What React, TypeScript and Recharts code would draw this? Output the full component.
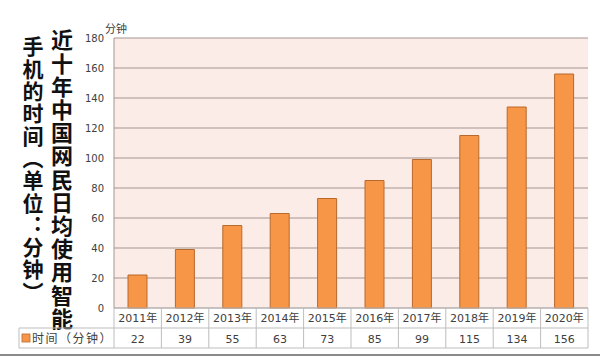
import React from "react";
import { BarChart, Bar, XAxis, YAxis, CartesianGrid } from "recharts";

const years = ["2011年", "2012年", "2013年", "2014年", "2015年", "2016年", "2017年", "2018年", "2019年", "2020年"];
const minutes = [22, 39, 55, 63, 73, 85, 99, 115, 134, 156];
const yTicks = [0, 20, 40, 60, 80, 100, 120, 140, 160, 180];
const titleRight = "近十年中国网民日均使用智能";
const titleLeft = "手机的时间（单位：分钟）";
const seriesName = "时间（分钟）";
const unitLabel = "分钟";

const data = years.map((year, i) => ({ year, value: minutes[i] }));

const ORANGE = "#F79646";
const ORANGE_EDGE = "#B8692C";
const GRID = "#A39593";
const TABLE_LINE = "#BDBDBD";
const TEXT = "#404040";
const NUM_FONT = "'DejaVu Sans', 'Noto Sans CJK SC', sans-serif";
const CJK_FONT = "'Noto Sans CJK SC', sans-serif";
const CELL = 47.4;

function TableTick(props: any) {
  const { x, y, payload } = props;
  const i = years.indexOf(payload.value);
  const left = x - CELL / 2;
  const right = x + CELL / 2;
  return (
    <g>
      <line x1={right} y1={y} x2={right} y2={y + 40} stroke={TABLE_LINE} />
      <line x1={left} y1={y + 20} x2={right} y2={y + 20} stroke={TABLE_LINE} />
      <line x1={left} y1={y + 40} x2={right} y2={y + 40} stroke={TABLE_LINE} />
      <text x={x} y={y + 14} textAnchor="middle" fontSize={11} fontFamily={NUM_FONT} fill={TEXT}>
        {payload.value}
      </text>
      <text x={x} y={y + 35} textAnchor="middle" fontSize={11} fontFamily={NUM_FONT} fill={TEXT}>
        {minutes[i]}
      </text>
      {i === 0 && (
        <g>
          <line x1={left} y1={y} x2={left} y2={y + 40} stroke={TABLE_LINE} />
          <line x1={19} y1={y + 20} x2={left} y2={y + 20} stroke={TABLE_LINE} />
          <line x1={19} y1={y + 40} x2={left} y2={y + 40} stroke={TABLE_LINE} />
          <line x1={19} y1={y + 20} x2={19} y2={y + 40} stroke={TABLE_LINE} />
          <rect x={22} y={y + 26} width={8} height={8} fill={ORANGE} stroke={ORANGE_EDGE} strokeWidth={0.8} />
          <text x={32} y={y + 35} fontSize={12} letterSpacing={1.5} fontFamily={CJK_FONT} fill={TEXT}>
            {seriesName}
          </text>
        </g>
      )}
    </g>
  );
}

export default function App() {
  return (
    <div style={{ position: "absolute", left: 0, top: 0, width: 600, height: 358, background: "#fff", overflow: "hidden" }}>
      <div
        style={{
          position: "absolute",
          left: 51,
          top: 29,
          writingMode: "vertical-rl",
          fontFamily: CJK_FONT,
          fontWeight: 700,
          fontSize: 22,
          lineHeight: 1,
          letterSpacing: 1.2,
          color: "#111",
        }}
      >
        {titleRight}
      </div>
      <div
        style={{
          position: "absolute",
          left: 22,
          top: 36,
          writingMode: "vertical-rl",
          fontFamily: CJK_FONT,
          fontWeight: 700,
          fontSize: 21,
          lineHeight: 1,
          letterSpacing: 1.3,
          color: "#111",
        }}
      >
        {titleLeft}
      </div>
      <div
        style={{
          position: "absolute",
          left: 105,
          top: 20,
          fontFamily: CJK_FONT,
          fontSize: 11,
          color: TEXT,
        }}
      >
        {unitLabel}
      </div>
      <BarChart width={600} height={358} data={data} margin={{ top: 38, right: 12, left: 84, bottom: 8 }} barCategoryGap={0}>
        <CartesianGrid horizontal vertical={false} stroke={GRID} fill="#FCECE7" fillOpacity={1} />
        <XAxis
          dataKey="year"
          height={42}
          tickLine={false}
          tickSize={0}
          tickMargin={0}
          axisLine={{ stroke: TABLE_LINE }}
          interval={0}
          tick={<TableTick />}
        />
        <YAxis
          width={30}
          domain={[0, 180]}
          ticks={yTicks}
          tickLine={false}
          tickSize={0}
          tickMargin={10}
          axisLine={{ stroke: GRID }}
          tick={{ fontSize: 10, fontFamily: NUM_FONT, fill: TEXT }}
        />
        <Bar dataKey="value" barSize={19} fill={ORANGE} stroke={ORANGE_EDGE} strokeWidth={1} isAnimationActive={false} />
      </BarChart>
      <div style={{ position: "absolute", left: 0, top: 354, width: 600, height: 2, background: "#8a8a8a" }} />
    </div>
  );
}
